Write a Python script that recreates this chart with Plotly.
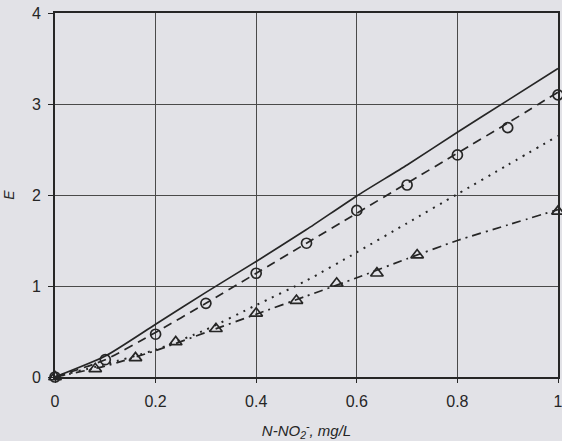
import plotly.graph_objects as go

# ---- data ----
x_line = [0, 0.1, 0.2, 0.3, 0.4, 0.5, 0.6, 0.7, 0.8, 0.9, 1.0]
E_solid = [0, 0.23, 0.58, 0.93, 1.27, 1.62, 1.99, 2.33, 2.69, 3.04, 3.39]
E_dash = [0, 0.19, 0.49, 0.81, 1.14, 1.47, 1.80, 2.13, 2.46, 2.79, 3.13]
E_dot = [0, 0.14, 0.30, 0.52, 0.79, 1.06, 1.37, 1.69, 2.01, 2.33, 2.65]
E_dashdot = [0, 0.12, 0.29, 0.49, 0.69, 0.89, 1.09, 1.30, 1.50, 1.67, 1.84]

x_circ = [0, 0.1, 0.2, 0.3, 0.4, 0.5, 0.6, 0.7, 0.8, 0.9, 1.0]
E_circ = [0, 0.19, 0.47, 0.81, 1.14, 1.47, 1.83, 2.11, 2.44, 2.74, 3.10]

x_tri = [0, 0.08, 0.16, 0.24, 0.32, 0.40, 0.48, 0.56, 0.64, 0.72, 1.0]
E_tri = [0, 0.09, 0.21, 0.385, 0.53, 0.70, 0.84, 1.03, 1.14, 1.34, 1.82]

x_ticks = [0, 0.2, 0.4, 0.6, 0.8, 1.0]
x_ticklabels = ["0", "0.2", "0.4", "0.6", "0.8", "1"]
y_ticks = [0, 1, 2, 3, 4]
y_ticklabels = ["0", "1", "2", "3", "4"]

INK = "#262626"
BG = "#e2e2e7"
FONT = "Liberation Sans, Arial, sans-serif"

fig = go.Figure()
fig.add_trace(go.Scatter(x=x_line, y=E_solid, mode="lines",
                         line=dict(color=INK, width=1.7, shape="spline", smoothing=0.6),
                         showlegend=False))
fig.add_trace(go.Scatter(x=x_line, y=E_dash, mode="lines",
                         line=dict(color=INK, width=1.7, dash="9px,6px", shape="spline", smoothing=0.6),
                         showlegend=False))
fig.add_trace(go.Scatter(x=x_line, y=E_dot, mode="lines",
                         line=dict(color=INK, width=2, dash="2px,6px", shape="spline", smoothing=0.6),
                         showlegend=False))
fig.add_trace(go.Scatter(x=x_line, y=E_dashdot, mode="lines",
                         line=dict(color=INK, width=1.7, dash="9px,5px,2px,5px", shape="spline", smoothing=0.6),
                         showlegend=False))
fig.add_trace(go.Scatter(x=x_circ, y=E_circ, mode="markers", cliponaxis=False,
                         marker=dict(symbol="circle-open", size=10, color=INK,
                                     line=dict(width=1.7, color=INK)), showlegend=False))
fig.add_trace(go.Scatter(x=x_tri, y=E_tri, mode="markers", cliponaxis=False,
                         marker=dict(symbol="triangle-up-open", size=11, color=INK,
                                     line=dict(width=1.7, color=INK)), showlegend=False))

fig.update_layout(
    width=562, height=441,
    margin=dict(l=55, r=4, t=13, b=64, autoexpand=False),
    paper_bgcolor=BG, plot_bgcolor=BG,
    font=dict(family=FONT, color=INK, size=16),
    xaxis=dict(range=[0, 1], tickvals=x_ticks, ticktext=x_ticklabels,
               showgrid=True, gridcolor="#4a4a4a", gridwidth=1,
               showline=True, linecolor=INK, linewidth=2, mirror=True,
               ticks="outside", ticklen=4, tickcolor=INK, zeroline=False,
               tickfont=dict(size=16), ticklabelstandoff=5, automargin=False,
               ticklabeloverflow="allow",
               title=dict(text="<i>N-NO<sub>2</sub><sup>-</sup>, mg/L</i>",
                          font=dict(size=15), standoff=20)),
    yaxis=dict(range=[0, 4], tickvals=y_ticks, ticktext=y_ticklabels,
               showgrid=True, gridcolor="#4a4a4a", gridwidth=1,
               showline=True, linecolor=INK, linewidth=2, mirror=True,
               ticks="outside", ticklen=5, tickcolor=INK, zeroline=False,
               tickfont=dict(size=16), ticklabelstandoff=4, automargin=False,
               ticklabeloverflow="allow",
               title=dict(text="<i>E</i>", font=dict(size=14), standoff=14)),
)

# remove the page's default body margin so the figure fills the window exactly
post = ("document.body.style.margin='0';"
        "document.body.style.overflow='hidden';"
        "document.body.style.background='" + BG + "';")
fig.write_html("out.html", post_script=post, config={"displayModeBar": False})
